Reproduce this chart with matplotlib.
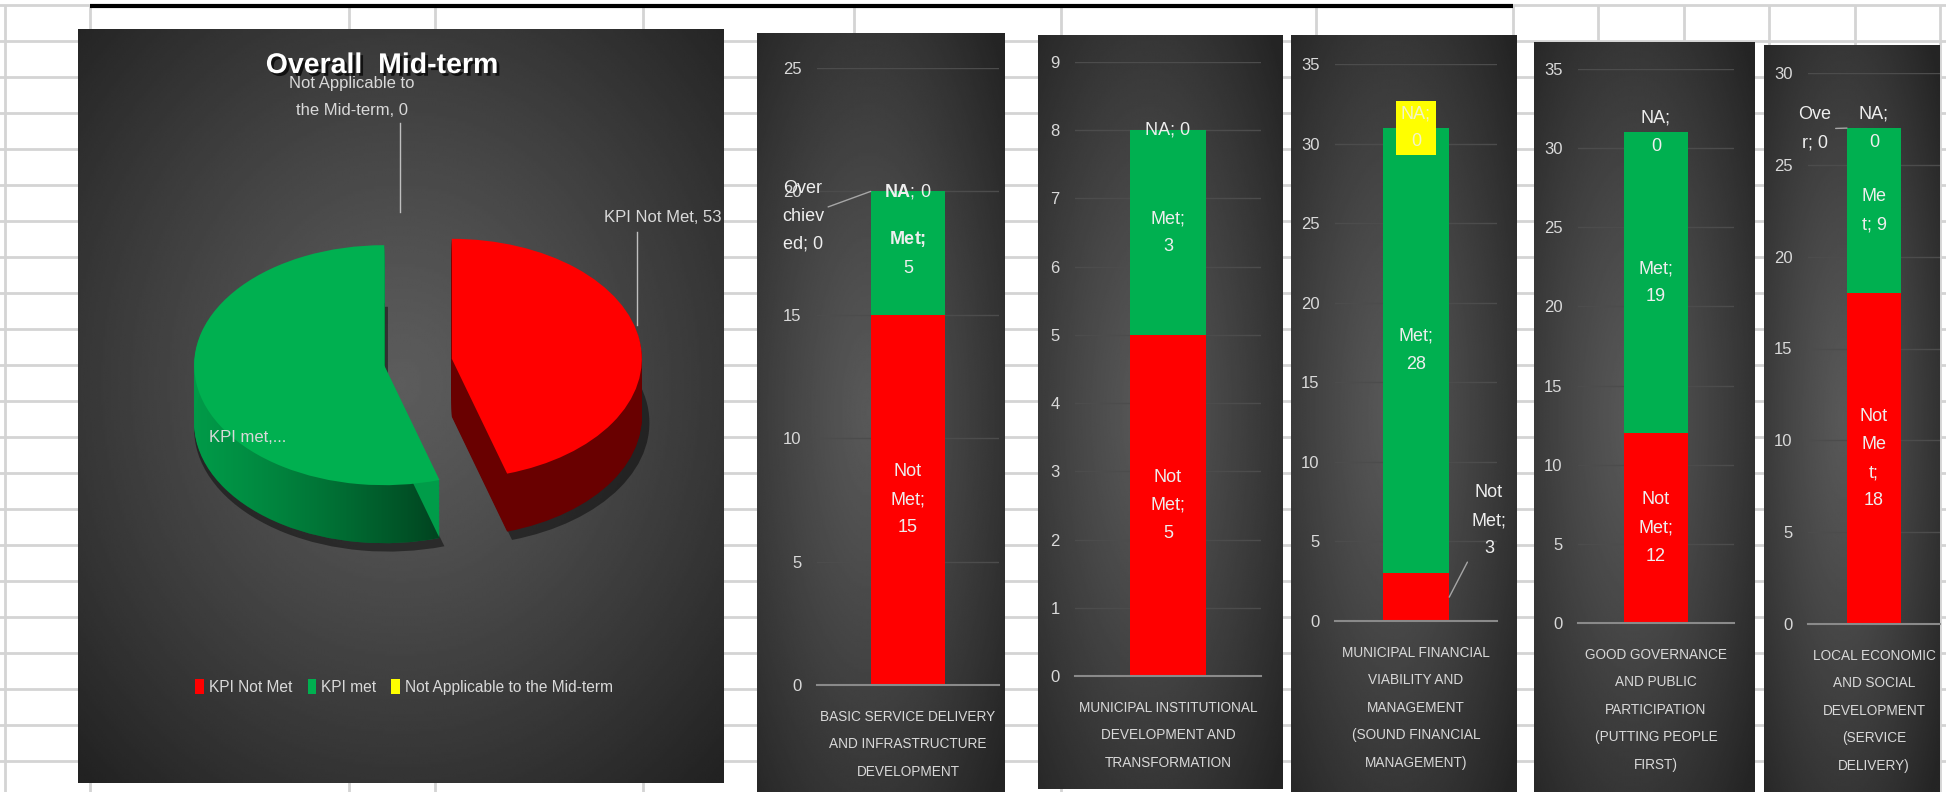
import numpy as np
import matplotlib
matplotlib.use('Agg')
import matplotlib.pyplot as plt
import matplotlib.patheffects as pe

# ---- data ----
pie_labels = ['KPI Not Met', 'KPI met', 'Not Applicable to the Mid-term']
pie_values = [53, 64, 0]

categories = ['BASIC SERVICE DELIVERY\nAND INFRASTRUCTURE\nDEVELOPMENT',
              'MUNICIPAL INSTITUTIONAL\nDEVELOPMENT AND\nTRANSFORMATION',
              'MUNICIPAL FINANCIAL\nVIABILITY AND\nMANAGEMENT\n(SOUND FINANCIAL\nMANAGEMENT)',
              'GOOD GOVERNANCE\nAND PUBLIC\nPARTICIPATION\n(PUTTING PEOPLE\nFIRST)',
              'LOCAL ECONOMIC\nAND SOCIAL\nDEVELOPMENT\n(SERVICE\nDELIVERY)']
not_met = [15, 5, 3, 12, 18]
met = [5, 3, 28, 19, 9]
na = [0, 0, 0, 0, 0]
over_achieved = [0, None, None, None, 0]
y_max = [25, 9, 35, 35, 30]
y_step = [5, 1, 5, 5, 5]

# label wording as excel wrapped it (first panel has bold names)
not_met_fmt = ['Not\nMet;\n{}', 'Not\nMet;\n{}', 'Not\nMet;\n{}', 'Not\nMet;\n{}', 'Not\nMe\nt;\n{}']
met_fmt = [r'$\mathbf{{Met;}}$' + '\n{}', 'Met;\n{}', 'Met;\n{}', 'Met;\n{}', 'Me\nt; {}']
na_fmt = [r'$\mathbf{{NA}}$; {}', 'NA; {}', 'NA;\n{}', 'NA;\n{}', 'NA;\n{}']
over_fmt = ['Over\nchiev\ned; {}', None, None, None, 'Ove\nr; {}']

RED, GREEN, YELLOW = '#ff0000', '#00b050', '#ffff00'
TXT = '#d9d9d9'

plt.rcParams['font.family'] = ['Liberation Sans', 'DejaVu Sans']
plt.rcParams['mathtext.fontset'] = 'custom'
plt.rcParams['mathtext.rm'] = 'Liberation Sans'
plt.rcParams['mathtext.bf'] = 'Liberation Sans:bold'

W, H = 1946, 792
fig = plt.figure(figsize=(W / 100, H / 100), dpi=100)
fig.patch.set_facecolor('white')


def px_axes(box, **kw):
    x0, y0, x1, y1 = box
    return fig.add_axes([x0 / W, 1 - y1 / H, (x1 - x0) / W, (y1 - y0) / H], **kw)


def gradient(ax, cx=0.5, cy=0.5, inner=92, outer=36):
    yy, xx = np.mgrid[0:1:300j, 0:1:300j]
    r = np.clip(np.hypot(xx - cx, yy - cy) / 0.72, 0, 1)
    v = (inner + (outer - inner) * r ** 1.2) / 255
    ax.imshow(v, cmap='gray', vmin=0, vmax=1, extent=(0, 1, 0, 1),
              aspect='auto', interpolation='bilinear')
    ax.set_axis_off()


# spreadsheet grid behind everything
bg = px_axes((0, 0, W, H))
bg.set_xlim(0, W)
bg.set_ylim(H, 0)
bg.set_axis_off()
for y in range(41, H, 36):
    bg.axhline(y, color='#d4d4d4', lw=2)
for x in [5, 90, 349, 435, 643, 854, 1061, 1316, 1513, 1598, 1684, 1769, 1855, 1940]:
    bg.plot([x, x], [6, H], color='#d4d4d4', lw=2)
bg.axhline(5, color='#d4d4d4', lw=2)
bg.plot([90, 1513], [6, 6], color='black', lw=3, solid_capstyle='butt')

# ---- pie panel (fake 3d: stacked pies for the side) ----
pie_box = (78, 29, 723, 783)
gradient(px_axes(pie_box), cx=0.5, cy=0.47, inner=92, outer=34)
pax = px_axes(pie_box)
pax.patch.set_alpha(0)

cx, cy, rx, ry, depth = 418, 362, 190, 120, 58
explode = [0.18, 0.18, 0]
n = 45
d = depth / ry
pax.pie(pie_values, colors=['black'] * 3, explode=explode, startangle=90,
        counterclock=False, radius=1.02, center=(0.02, -d - 0.05),
        wedgeprops=dict(linewidth=0, alpha=0.45, zorder=0.9))
bottom = None
for i in range(n, 0, -1):
    w, _ = pax.pie(pie_values, colors=['#690000', '#009c49', '#9a9a00'], explode=explode,
                   startangle=90, counterclock=False, center=(0, -d * i / n),
                   wedgeprops=dict(linewidth=0, zorder=1))
    if bottom is None:
        bottom = w
# darken the green side towards the cut
ramp = np.zeros((1, 256, 4))
ramp[0, :, 3] = np.linspace(0, 1, 256) ** 1.3 * 0.62
shade = pax.imshow(ramp, extent=(-1.25, 0.2, -d - 1.2, 1.2), aspect='auto',
                   interpolation='bilinear', zorder=1.5)
shade.set_clip_path(bottom[1])
top, _ = pax.pie(pie_values, colors=[RED, GREEN, YELLOW], explode=explode,
                 startangle=90, counterclock=False,
                 wedgeprops=dict(linewidth=0, zorder=2))
pax.set_aspect('auto')
pax.set_xlim((pie_box[0] - cx) / rx, (pie_box[2] - cx) / rx)
pax.set_ylim(-(pie_box[3] - cy) / ry, (cy - pie_box[1]) / ry)
pax.set_axis_off()

leg = pax.legend(top, pie_labels, loc='center', ncol=3, frameon=False,
                 bbox_to_anchor=(404 / W, 1 - 687 / H), bbox_transform=fig.transFigure,
                 handlelength=0.55, handleheight=1.1, handletextpad=0.3,
                 columnspacing=1.0, fontsize=11.2, labelcolor=TXT)

# ---- bar panels ----
panel_box = [(757, 33, 1005, 792), (1038, 35, 1283, 789), (1291, 35, 1517, 792),
             (1534, 42, 1754, 792), (1764, 45, 1940, 792)]
plot_box = [(817, 68, 999, 685), (1075, 62, 1261, 676), (1335, 64, 1497, 621),
            (1578, 69, 1734, 623), (1808, 73, 1940, 624)]
bw = 0.41

for i in range(5):
    gradient(px_axes(panel_box[i]), cx=0.45, cy=0.5, inner=88, outer=36)
    ax = px_axes(plot_box[i])
    ax.patch.set_alpha(0)
    ax.bar(0, not_met[i], width=bw, color=RED, zorder=2)
    ax.bar(0, met[i], width=bw, bottom=not_met[i], color=GREEN, zorder=2)
    ax.bar(0, na[i], width=bw, bottom=not_met[i] + met[i], color=YELLOW, zorder=2)
    ax.set_xlim(-0.5, 0.5)
    ax.set_ylim(0, y_max[i])
    ax.set_yticks(range(0, y_max[i] + 1, y_step[i]))
    ax.set_xticks([0])
    ax.set_xticklabels([categories[i]], linespacing=2.22)
    ax.yaxis.grid(True, color='#4c4c4c', lw=1)
    ax.set_axisbelow(True)
    for s in ['top', 'left', 'right']:
        ax.spines[s].set_visible(False)
    ax.spines['bottom'].set_color('#8a8a8a')
    ax.spines['bottom'].set_linewidth(1.5)
    ax.tick_params(axis='y', length=0, pad=11, labelcolor=TXT, labelsize=12)
    ax.tick_params(axis='x', length=0, pad=18, labelcolor=TXT, labelsize=9.8)

    lab = dict(ha='center', va='center', color='#eeeeee', fontsize=13,
               linespacing=1.85, zorder=4)
    top_val = not_met[i] + met[i]
    if i == 2:
        ax.annotate(not_met_fmt[i].format(not_met[i]), xy=(bw / 2, not_met[i] / 2),
                    xytext=(0.45, 6.3), annotation_clip=False,
                    arrowprops=dict(arrowstyle='-', color='#a6a6a6', lw=1,
                                    shrinkA=2, shrinkB=0), **lab)
    else:
        ax.text(0, not_met[i] / 2, not_met_fmt[i].format(not_met[i]), **lab)
    ax.text(0, not_met[i] + met[i] / 2, met_fmt[i].format(met[i]), **lab)
    if i == 2:
        ax.text(0, top_val + na[i] / 2, na_fmt[i].format(na[i]),
                bbox=dict(boxstyle='square,pad=0.25', fc=YELLOW, ec='none'),
                **{**lab, 'color': '#f3f3c8'})
    else:
        ax.text(0, top_val + na[i] / 2, na_fmt[i].format(na[i]), **lab)
    if over_fmt[i] is not None:
        xt, yt = ((-0.577, top_val - 1.0) if i == 0 else (-0.447, top_val - 0.05))
        ax.annotate(over_fmt[i].format(over_achieved[i]), xy=(-bw / 2, top_val),
                    xytext=(xt, yt), annotation_clip=False,
                    arrowprops=dict(arrowstyle='-', color='#a6a6a6', lw=1,
                                    shrinkA=1, shrinkB=0), **lab)

# ---- pie text on top ----
ov = px_axes((0, 0, W, H))
ov.set_xlim(0, W)
ov.set_ylim(H, 0)
ov.set_axis_off()
ov.patch.set_alpha(0)
ov.text(382, 66, 'Overall  Mid-term', ha='center', va='center', color='white',
        fontsize=20.5, fontweight='bold',
        path_effects=[pe.withSimplePatchShadow(offset=(2, -2), shadow_rgbFace='black', alpha=0.7)])
ov.text(352, 97, f'{pie_labels[2]}, {pie_values[2]}'.replace(' to the', ' to\nthe'),
        ha='center', va='center', color=TXT, fontsize=12, linespacing=2.0)
ov.plot([400, 400], [123, 212], color='#bfbfbf', lw=1)
ov.text(663, 217, f'{pie_labels[0]}, {pie_values[0]}', ha='center', va='center',
        color=TXT, fontsize=12)
ov.plot([637, 637], [232, 325], color='#bfbfbf', lw=1)
ov.text(209, 437, f'{pie_labels[1]},...', ha='left', va='center', color=TXT,
        fontsize=12)

fig.savefig('out.png', dpi=100)
